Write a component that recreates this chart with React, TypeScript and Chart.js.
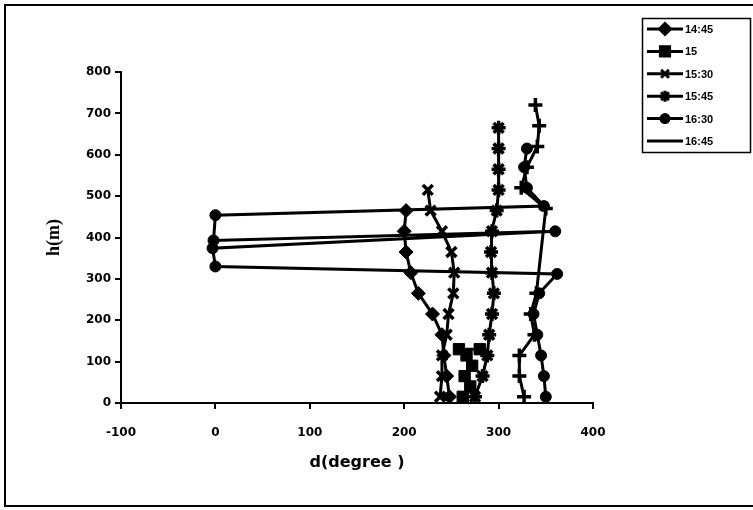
import React, { useEffect, useRef } from 'react';
import { Chart, registerables } from 'chart.js';
import { drawPoint } from 'chart.js/helpers';

Chart.register(...registerables);

const seriesLabels = ['14:45', '15', '15:30', '15:45', '16:30', '16:45'];

const deg1445 = [248, 245, 242, 240, 230, 215, 207, 202, 200, 202];
const h1445 = [15, 65, 115, 165, 215, 265, 315, 365, 415, 465];

const deg15 = [262, 270, 264, 272, 266, 258, 280];
const h15 = [15, 40, 65, 90, 115, 130, 130];

const deg1530 = [238, 240, 240, 245, 247, 252, 253, 250, 240, 228, 225];
const h1530 = [15, 65, 115, 165, 215, 265, 315, 365, 415, 465, 515];

const deg1545 = [275, 283, 288, 290, 293, 295, 293, 292, 293, 298, 300, 300, 300, 300];
const h1545 = [15, 65, 115, 165, 215, 265, 315, 365, 415, 465, 515, 565, 615, 665];

const deg1630 = [350, 348, 345, 341, 337, 343, 362, 0, -3, 360, -2, 0, 348, 330, 327, 330];
const h1630 = [15, 65, 115, 165, 215, 265, 312, 330, 374, 415, 393, 454, 476, 520, 570, 615];

const deg1645 = [327, 322, 322, 338, 334, 340, 350, 324, 330, 341, 343, 339];
const h1645 = [15, 65, 115, 165, 215, 265, 470, 520, 570, 620, 670, 720];

const xTickValues = [-100, 0, 100, 200, 300, 400];
const yTickValues = [0, 100, 200, 300, 400, 500, 600, 700, 800];

const xTitle = 'd(degree )';
const yTitle = 'h(m)';

const markerStyles = ['rectRot', 'rect', 'crossRot', 'star', 'circle', 'cross'];
const markerRadii = [7, 8, 7, 7, 5.5, 7];

function pts(d: number[], h: number[]) {
  return d.map((v, i) => ({ x: v, y: h[i] }));
}

const allSeries = [
  pts(deg1445, h1445),
  pts(deg15, h15),
  pts(deg1530, h1530),
  pts(deg1545, h1545),
  pts(deg1630, h1630),
  pts(deg1645, h1645),
];

const framePlugin = {
  id: 'frameAndLegend',
  afterDraw(chart: any) {
    const ctx = chart.ctx as CanvasRenderingContext2D;
    ctx.save();
    ctx.strokeStyle = '#000';
    ctx.lineWidth = 2;
    ctx.beginPath();
    ctx.moveTo(753, 5);
    ctx.lineTo(5, 5);
    ctx.lineTo(5, 506);
    ctx.lineTo(753, 506);
    ctx.stroke();

    ctx.lineWidth = 1.5;
    ctx.strokeRect(642.5, 18.5, 108, 134);

    chart.data.datasets.forEach((ds: any, i: number) => {
      const y = 29 + i * 22.4;
      ctx.strokeStyle = '#000';
      ctx.fillStyle = '#000';
      ctx.lineWidth = 3;
      ctx.beginPath();
      ctx.moveTo(647, y);
      ctx.lineTo(683, y);
      ctx.stroke();
      const ps = markerStyles[i];
      if (ps !== 'cross') {
        ctx.lineWidth = 3;
        drawPoint(ctx, { pointStyle: ps, radius: markerRadii[i] - 1.5, rotation: 0, borderWidth: 1 } as any, 665, y);
      }
      ctx.fillStyle = '#000';
      ctx.font = 'bold 11px "Liberation Sans", Arial, sans-serif';
      ctx.textBaseline = 'middle';
      ctx.textAlign = 'left';
      ctx.fillText(ds.label, 685, y + 1);
    });
    ctx.restore();
  },
};

export default function App() {
  const ref = useRef<HTMLCanvasElement | null>(null);

  useEffect(() => {
    document.body.style.margin = '0';
    document.body.style.overflow = 'hidden';
    const canvas = ref.current;
    if (!canvas) return;
    const tickFont = { family: '"DejaVu Sans", sans-serif', size: 12, weight: 'bold' as const };
    const chart = new Chart(canvas, {
      type: 'scatter',
      data: {
        datasets: allSeries.map((data, i) => ({
          label: seriesLabels[i],
          data,
          showLine: true,
          borderColor: '#000',
          backgroundColor: '#000',
          borderWidth: 3,
          pointStyle: markerStyles[i] as any,
          pointRadius: markerRadii[i],
          pointBorderWidth: markerStyles[i].startsWith('cross') || markerStyles[i] === 'star' ? 3.5 : 1,
          pointBackgroundColor: '#000',
          pointBorderColor: '#000',
          tension: 0,
          clip: false as any,
        })),
      },
      options: {
        responsive: false,
        animation: false,
        devicePixelRatio: 1,
        layout: { padding: { top: 72, right: 160, bottom: 0, left: 0 } },
        plugins: {
          legend: { display: false },
          tooltip: { enabled: false },
          title: { display: false },
        },
        scales: {
          x: {
            type: 'linear',
            min: -100,
            max: 400,
            afterBuildTicks: (scale: any) => {
              scale.ticks = xTickValues.map((v) => ({ value: v }));
            },
            afterFit: (scale: any) => {
              scale.height = 107;
            },
            ticks: { color: '#000', font: tickFont, padding: 17, maxRotation: 0 },
            grid: { drawOnChartArea: false, drawTicks: true, tickLength: 6, color: '#000', lineWidth: 2 },
            border: { display: true, color: '#000', width: 2 },
            title: {
              display: true,
              text: xTitle,
              color: '#000',
              font: { family: '"DejaVu Sans", sans-serif', size: 16, weight: 'bold' },
              padding: { top: 38, bottom: 38 },
            },
          },
          y: {
            type: 'linear',
            min: 0,
            max: 800,
            afterBuildTicks: (scale: any) => {
              scale.ticks = yTickValues.map((v) => ({ value: v }));
            },
            afterFit: (scale: any) => {
              scale.width = 121;
            },
            ticks: { color: '#000', font: tickFont, padding: 4 },
            grid: { drawOnChartArea: false, drawTicks: true, tickLength: 6, color: '#000', lineWidth: 2 },
            border: { display: true, color: '#000', width: 2 },
            title: {
              display: true,
              text: yTitle,
              color: '#000',
              font: { family: '"Liberation Serif", "Times New Roman", serif', size: 18, weight: 'bold' },
              padding: { top: 44, bottom: 44 },
            },
          },
        },
      },
      plugins: [framePlugin],
    });
    return () => chart.destroy();
  }, []);

  return <canvas ref={ref} width={753} height={510} style={{ display: 'block', width: 753, height: 510 }} />;
}
